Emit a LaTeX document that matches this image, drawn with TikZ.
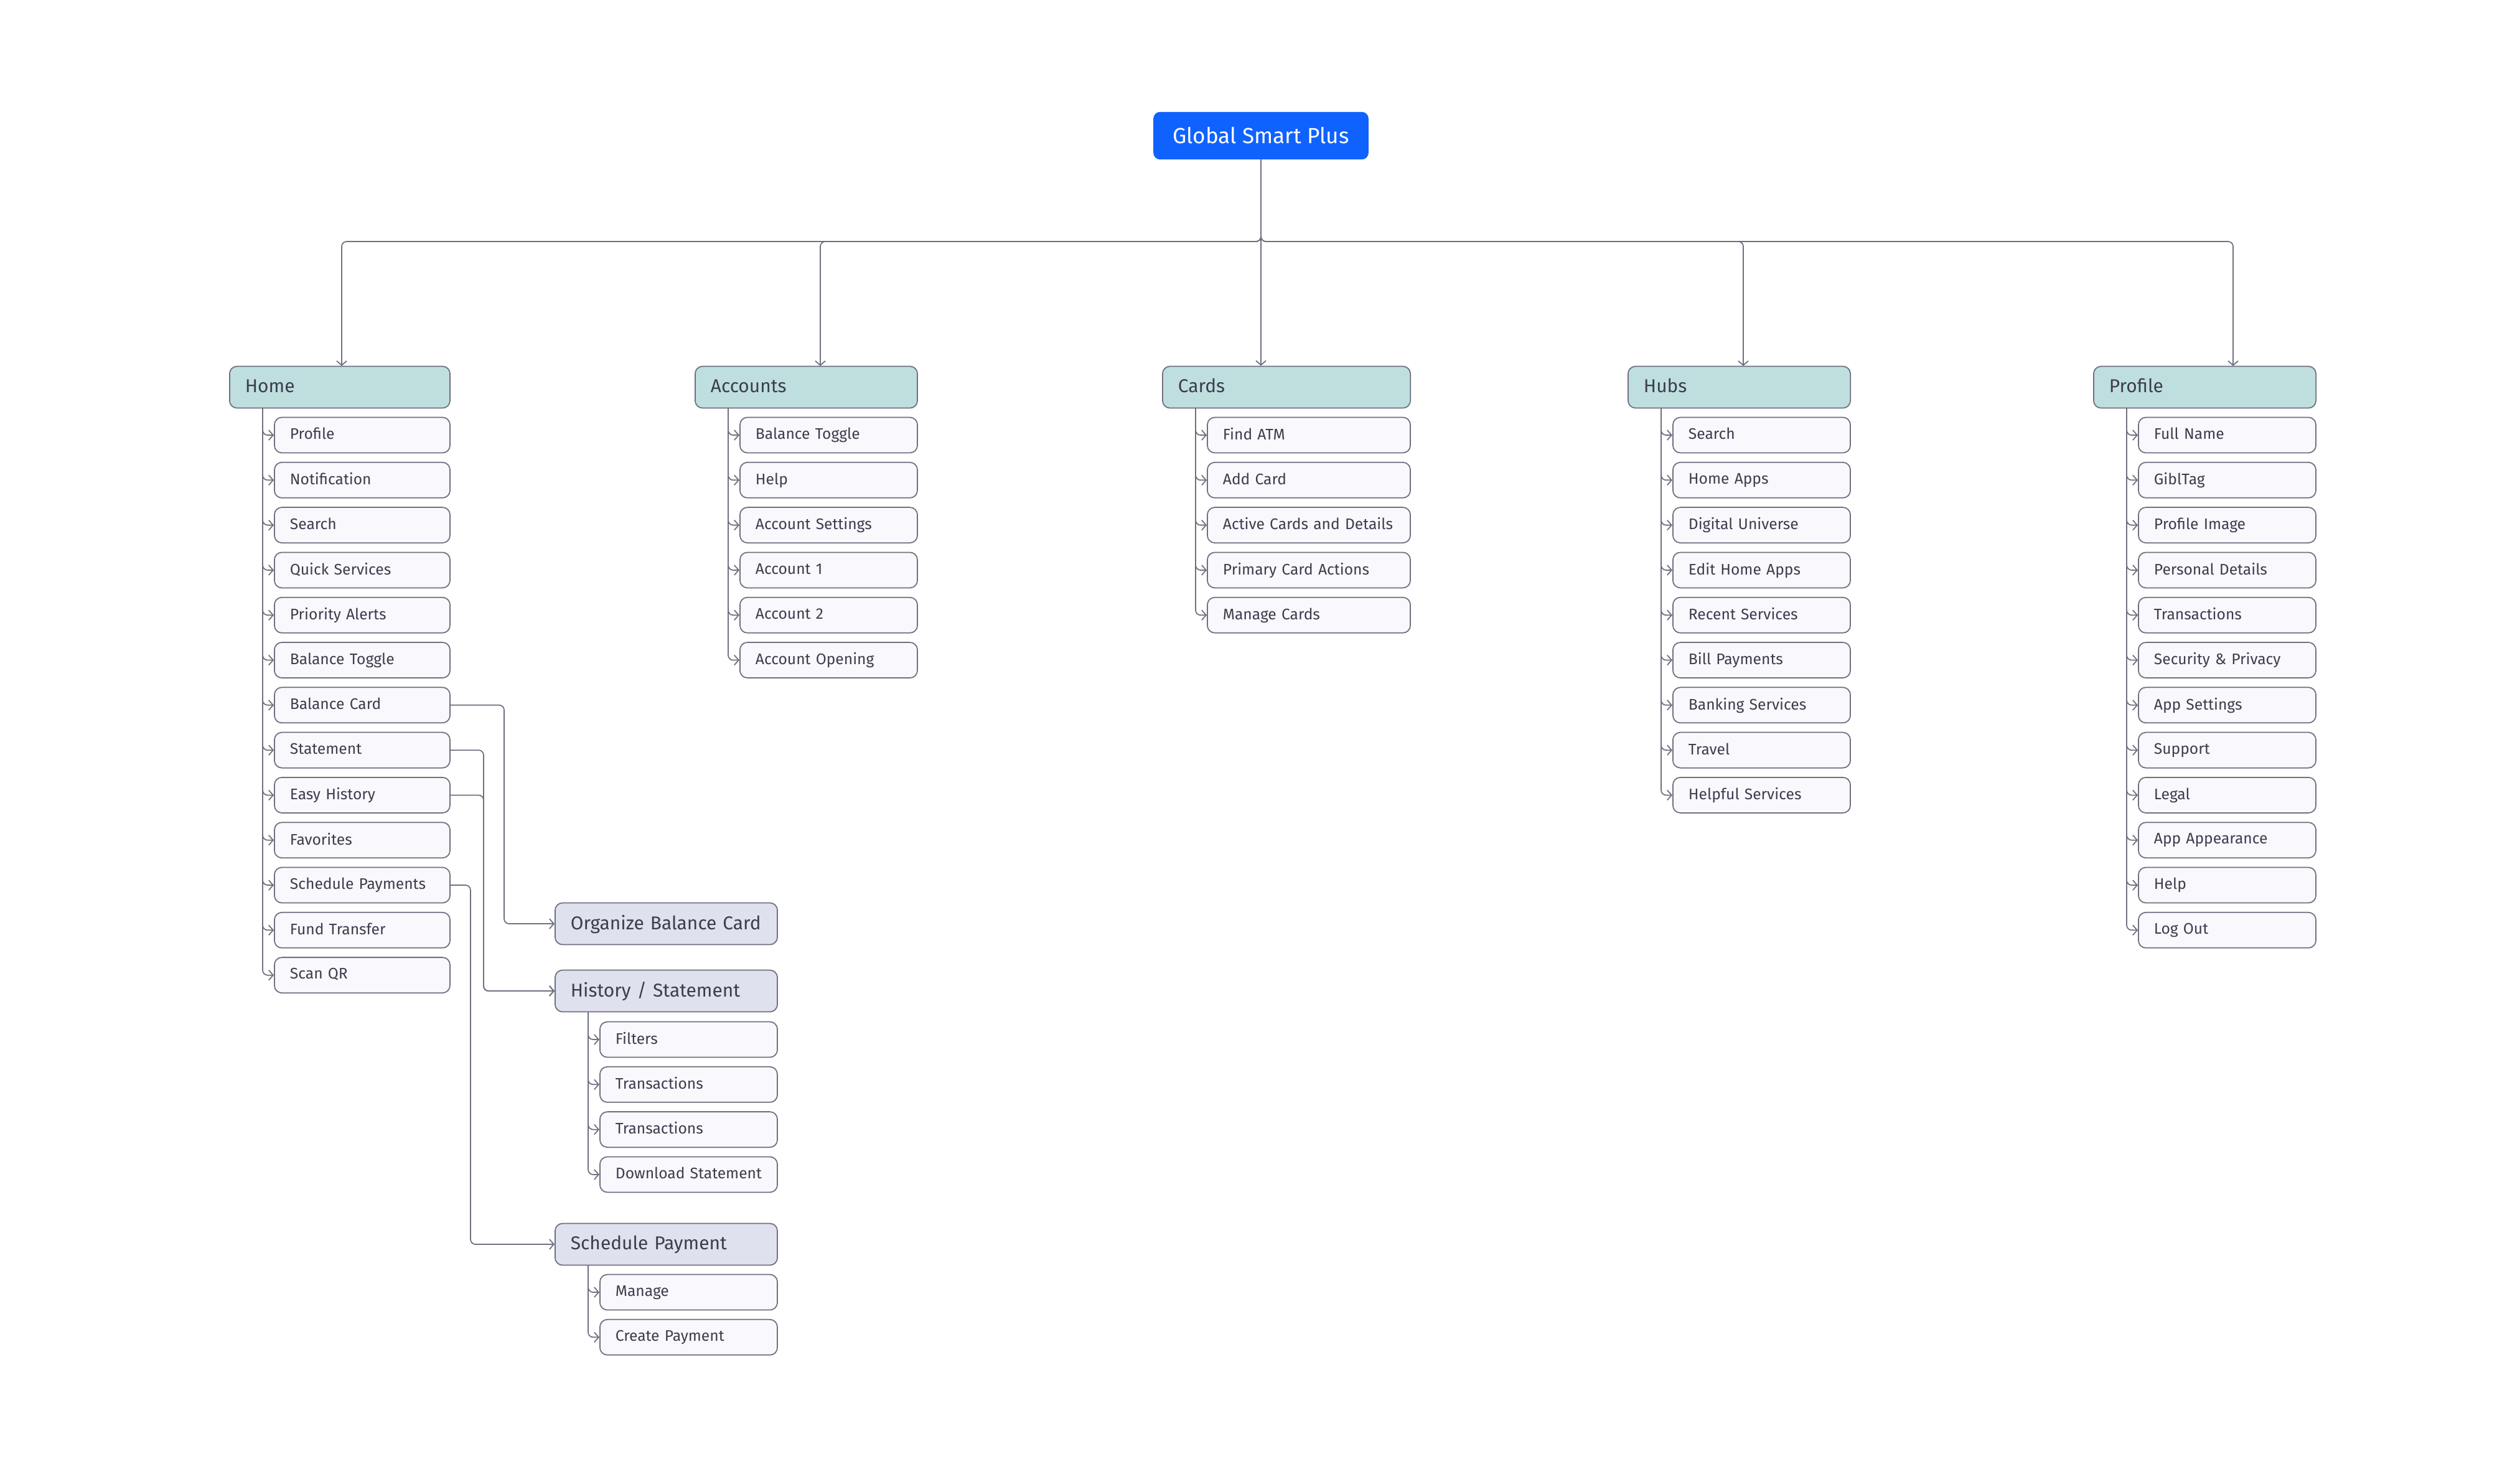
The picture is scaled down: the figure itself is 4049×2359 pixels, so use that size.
\documentclass[tikz,border=0pt]{standalone}
\usepackage{fontspec}
\setmainfont{Fira Sans}
\usetikzlibrary{arrows.meta}
\definecolor{linegray}{HTML}{6F6F80}
\definecolor{textgray}{HTML}{3D3D4D}
\definecolor{headfill}{HTML}{BFDFDF}
\definecolor{subfill}{HTML}{E0E1EE}
\definecolor{itemfill}{HTML}{F8F8FD}
\definecolor{rootblue}{HTML}{0F62FE}
\tikzset{
    box/.style={draw=linegray, line width=0.5pt, rounded corners=1.2mm, anchor=west, align=left,
        text=textgray, inner xsep=0.25cm, text depth=0.25ex},
    item/.style={box, fill=itemfill, minimum width=#1, minimum height=0.57cm, font=\fontsize{7}{8}\selectfont, text width={#1-0.5cm}},
    head/.style={box, fill=headfill, minimum width=#1, minimum height=0.67cm, font=\fontsize{8.5}{10}\selectfont, text width={#1-0.5cm}},
    subhead/.style={box, fill=subfill, minimum width=3.57cm, minimum height=0.67cm, font=\fontsize{8.5}{10}\selectfont, text width=3.07cm},
    conn/.style={draw=linegray, line width=0.5pt, rounded corners=0.8mm, -{Straight Barb[length=0.7mm, width=1.6mm]}},
}
\begin{document}
\begin{tikzpicture}[x=0.01cm, y=-0.01cm]
    \useasboundingbox (0,0) rectangle (4049,2359);
    % root
    \node[draw=rootblue, fill=rootblue, text=white, rounded corners=1mm, minimum width=3.44cm,
        minimum height=0.75cm, font=\fontsize{10}{12}\selectfont] (root) at (2026,218) {Global Smart Plus};

    % columns: name / left x / header width / item width / items
    \foreach \col/\cx/\hw/\iw/\title/\items in {
        home/368/3.54cm/2.82cm/Home/{Profile,Notification,Search,Quick Services,Priority Alerts,Balance Toggle,Balance Card,Statement,Easy History,Favorites,Schedule Payments,Fund Transfer,Scan QR},
        accounts/1116/3.57cm/2.85cm/Accounts/{Balance Toggle,Help,Account Settings,Account 1,Account 2,Account Opening},
        cards/1867/3.98cm/3.26cm/Cards/{Find ATM,Add Card,Active Cards and Details,Primary Card Actions,Manage Cards},
        hubs/2615/3.57cm/2.85cm/Hubs/{Search,Home Apps,Digital Universe,Edit Home Apps,Recent Services,Bill Payments,Banking Services,Travel,Helpful Services},
        profile/3363/3.57cm/2.85cm/Profile/{Full Name,GiblTag,Profile Image,Personal Details,Transactions,Security \& Privacy,App Settings,Support,Legal,App Appearance,Help,Log Out}} {
        \node[head=\hw] (\col) at (\cx,622) {\title};
        \foreach \t [count=\i] in \items {
            \node[item=\iw] (\col-\i) at ({\cx+72},{699+72.3*(\i-1)}) {\t};
            \draw[conn] ({\cx+54},655) |- (\col-\i.west);
        }
    }

    % root to sections
    \draw[conn] (root.south) -- (cards.north -| root.south);
    \foreach \col/\bx in {home/549, accounts/1318, hubs/2801, profile/3588}
        \draw[conn] (root.south) -- (2026,388) -| (\bx,588);

    % home sub pages
    \node[subhead] (organize) at (891,1484) {Organize Balance Card};
    \node[subhead] (history) at (891,1592) {History / Statement};
    \node[subhead] (schedule) at (891,1999) {Schedule Payment};
    \foreach \t [count=\i] in {Filters,Transactions,Transactions,Download Statement} {
        \node[item=2.85cm] (history-\i) at (963,{1670+72.3*(\i-1)}) {\t};
        \draw[conn] (945,1625) |- (history-\i.west);
    }
    \foreach \t [count=\i] in {Manage,Create Payment} {
        \node[item=2.85cm] (schedule-\i) at (963,{2076+72.3*(\i-1)}) {\t};
        \draw[conn] (945,2032) |- (schedule-\i.west);
    }
    \draw[conn] (home-7.east) -| (810,1400) |- (organize.west);
    \draw[conn] (home-8.east) -| (777,1500) |- (history.west);
    \draw[conn] (home-9.east) -| (777,1500) |- (history.west);
    \draw[conn] (home-11.east) -| (756,1900) |- (schedule.west);
\end{tikzpicture}
\end{document}
